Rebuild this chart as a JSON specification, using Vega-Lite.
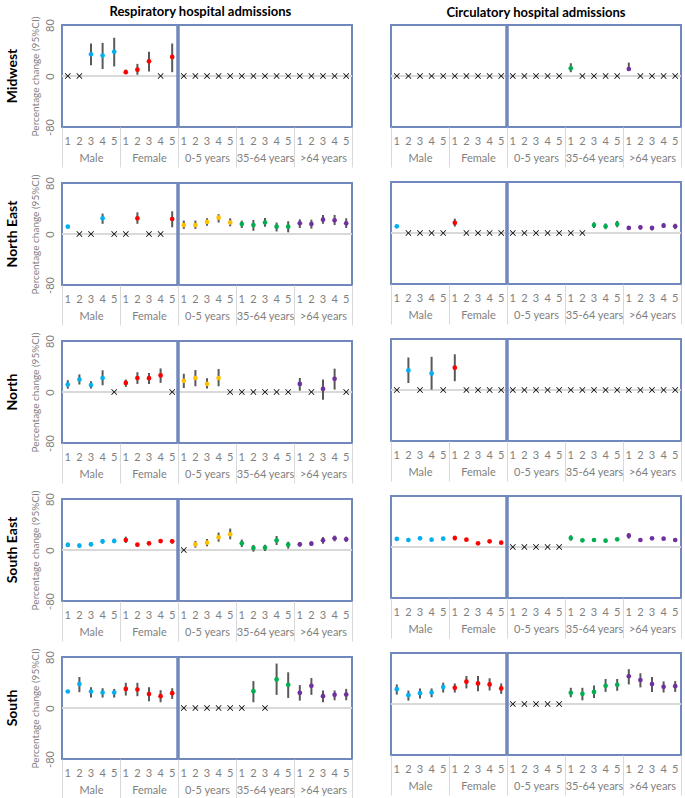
{
"$schema":"https://vega.github.io/schema/vega-lite/v6.json",
"padding":{"left":4,"top":6,"right":0,"bottom":0},
"config":{"font":"Lato","view":{"stroke":"#7088bb","strokeWidth":2},"axis":{"labelColor":"#7f7f7f","labelFontSize":11,"labelFont":"Lato"},"axisY":{"labelAngle":-90,"ticks":false,"domain":false,"grid":false,"labelPadding":7,"titlePadding":4,"titleFontSize":10,"titleFontWeight":"normal","titleColor":"#7f7f7f","titleFont":"Lato","labelColor":"#7f7f7f"},"title":{"font":"Lato","color":"#000"}},
"datasets":{"d":[
{"r":"Midwest","o":"R","g":"Male","l":1,"e":0},{"r":"Midwest","o":"R","g":"Male","l":2,"e":0},{"r":"Midwest","o":"R","g":"Male","l":3,"e":34,"lo":17,"hi":51},{"r":"Midwest","o":"R","g":"Male","l":4,"e":32,"lo":11,"hi":52},{"r":"Midwest","o":"R","g":"Male","l":5,"e":38,"lo":15,"hi":60},
{"r":"Midwest","o":"R","g":"Female","l":1,"e":6,"lo":3,"hi":10},{"r":"Midwest","o":"R","g":"Female","l":2,"e":10,"lo":2,"hi":19},{"r":"Midwest","o":"R","g":"Female","l":3,"e":23,"lo":7,"hi":38},{"r":"Midwest","o":"R","g":"Female","l":4,"e":0},{"r":"Midwest","o":"R","g":"Female","l":5,"e":30,"lo":6,"hi":51},
{"r":"Midwest","o":"R","g":"0-5 years","l":1,"e":0},{"r":"Midwest","o":"R","g":"0-5 years","l":2,"e":0},{"r":"Midwest","o":"R","g":"0-5 years","l":3,"e":0},{"r":"Midwest","o":"R","g":"0-5 years","l":4,"e":0},{"r":"Midwest","o":"R","g":"0-5 years","l":5,"e":0},
{"r":"Midwest","o":"R","g":"35-64 years","l":1,"e":0},{"r":"Midwest","o":"R","g":"35-64 years","l":2,"e":0},{"r":"Midwest","o":"R","g":"35-64 years","l":3,"e":0},{"r":"Midwest","o":"R","g":"35-64 years","l":4,"e":0},{"r":"Midwest","o":"R","g":"35-64 years","l":5,"e":0},
{"r":"Midwest","o":"R","g":">64 years","l":1,"e":0},{"r":"Midwest","o":"R","g":">64 years","l":2,"e":0},{"r":"Midwest","o":"R","g":">64 years","l":3,"e":0},{"r":"Midwest","o":"R","g":">64 years","l":4,"e":0},{"r":"Midwest","o":"R","g":">64 years","l":5,"e":0},
{"r":"Midwest","o":"C","g":"Male","l":1,"e":0},{"r":"Midwest","o":"C","g":"Male","l":2,"e":0},{"r":"Midwest","o":"C","g":"Male","l":3,"e":0},{"r":"Midwest","o":"C","g":"Male","l":4,"e":0},{"r":"Midwest","o":"C","g":"Male","l":5,"e":0},
{"r":"Midwest","o":"C","g":"Female","l":1,"e":0},{"r":"Midwest","o":"C","g":"Female","l":2,"e":0},{"r":"Midwest","o":"C","g":"Female","l":3,"e":0},{"r":"Midwest","o":"C","g":"Female","l":4,"e":0},{"r":"Midwest","o":"C","g":"Female","l":5,"e":0},
{"r":"Midwest","o":"C","g":"0-5 years","l":1,"e":0},{"r":"Midwest","o":"C","g":"0-5 years","l":2,"e":0},{"r":"Midwest","o":"C","g":"0-5 years","l":3,"e":0},{"r":"Midwest","o":"C","g":"0-5 years","l":4,"e":0},{"r":"Midwest","o":"C","g":"0-5 years","l":5,"e":0},
{"r":"Midwest","o":"C","g":"35-64 years","l":1,"e":12,"lo":6,"hi":20},{"r":"Midwest","o":"C","g":"35-64 years","l":2,"e":0},{"r":"Midwest","o":"C","g":"35-64 years","l":3,"e":0},{"r":"Midwest","o":"C","g":"35-64 years","l":4,"e":0},{"r":"Midwest","o":"C","g":"35-64 years","l":5,"e":0},
{"r":"Midwest","o":"C","g":">64 years","l":1,"e":11,"lo":8,"hi":21},{"r":"Midwest","o":"C","g":">64 years","l":2,"e":0},{"r":"Midwest","o":"C","g":">64 years","l":3,"e":0},{"r":"Midwest","o":"C","g":">64 years","l":4,"e":0},{"r":"Midwest","o":"C","g":">64 years","l":5,"e":0},
{"r":"North East","o":"R","g":"Male","l":1,"e":11.5,"lo":10,"hi":13},{"r":"North East","o":"R","g":"Male","l":2,"e":0},{"r":"North East","o":"R","g":"Male","l":3,"e":0},{"r":"North East","o":"R","g":"Male","l":4,"e":24.6,"lo":16,"hi":32},{"r":"North East","o":"R","g":"Male","l":5,"e":0},
{"r":"North East","o":"R","g":"Female","l":1,"e":0},{"r":"North East","o":"R","g":"Female","l":2,"e":24.6,"lo":16,"hi":34},{"r":"North East","o":"R","g":"Female","l":3,"e":0},{"r":"North East","o":"R","g":"Female","l":4,"e":0},{"r":"North East","o":"R","g":"Female","l":5,"e":23.5,"lo":10.5,"hi":35.6},
{"r":"North East","o":"R","g":"0-5 years","l":1,"e":14,"lo":8,"hi":21},{"r":"North East","o":"R","g":"0-5 years","l":2,"e":14,"lo":8,"hi":21},{"r":"North East","o":"R","g":"0-5 years","l":3,"e":19,"lo":13,"hi":24.6},{"r":"North East","o":"R","g":"0-5 years","l":4,"e":25.6,"lo":18,"hi":31},{"r":"North East","o":"R","g":"0-5 years","l":5,"e":18,"lo":12,"hi":24.6},
{"r":"North East","o":"R","g":"35-64 years","l":1,"e":15.7,"lo":9.4,"hi":21},{"r":"North East","o":"R","g":"35-64 years","l":2,"e":14,"lo":5,"hi":22},{"r":"North East","o":"R","g":"35-64 years","l":3,"e":18,"lo":11.5,"hi":25},{"r":"North East","o":"R","g":"35-64 years","l":4,"e":11.5,"lo":4,"hi":18},{"r":"North East","o":"R","g":"35-64 years","l":5,"e":11.5,"lo":2.6,"hi":20},
{"r":"North East","o":"R","g":">64 years","l":1,"e":16.7,"lo":9.4,"hi":23},{"r":"North East","o":"R","g":">64 years","l":2,"e":15.7,"lo":8.4,"hi":22.5},{"r":"North East","o":"R","g":">64 years","l":3,"e":22.5,"lo":16,"hi":30},{"r":"North East","o":"R","g":">64 years","l":4,"e":21.5,"lo":14,"hi":30},{"r":"North East","o":"R","g":">64 years","l":5,"e":16.7,"lo":9.4,"hi":24.6},
{"r":"North East","o":"C","g":"Male","l":1,"e":10.5,"lo":8.5,"hi":12.5},{"r":"North East","o":"C","g":"Male","l":2,"e":0},{"r":"North East","o":"C","g":"Male","l":3,"e":0},{"r":"North East","o":"C","g":"Male","l":4,"e":0},{"r":"North East","o":"C","g":"Male","l":5,"e":0},
{"r":"North East","o":"C","g":"Female","l":1,"e":16,"lo":10,"hi":22.5},{"r":"North East","o":"C","g":"Female","l":2,"e":0},{"r":"North East","o":"C","g":"Female","l":3,"e":0},{"r":"North East","o":"C","g":"Female","l":4,"e":0},{"r":"North East","o":"C","g":"Female","l":5,"e":0},
{"r":"North East","o":"C","g":"0-5 years","l":1,"e":0},{"r":"North East","o":"C","g":"0-5 years","l":2,"e":0},{"r":"North East","o":"C","g":"0-5 years","l":3,"e":0},{"r":"North East","o":"C","g":"0-5 years","l":4,"e":0},{"r":"North East","o":"C","g":"0-5 years","l":5,"e":0},
{"r":"North East","o":"C","g":"35-64 years","l":1,"e":0},{"r":"North East","o":"C","g":"35-64 years","l":2,"e":0},{"r":"North East","o":"C","g":"35-64 years","l":3,"e":12.5,"lo":8,"hi":17},{"r":"North East","o":"C","g":"35-64 years","l":4,"e":10.5,"lo":6,"hi":15},{"r":"North East","o":"C","g":"35-64 years","l":5,"e":14,"lo":9,"hi":19},
{"r":"North East","o":"C","g":">64 years","l":1,"e":8,"lo":5,"hi":10.5},{"r":"North East","o":"C","g":">64 years","l":2,"e":9,"lo":5,"hi":12},{"r":"North East","o":"C","g":">64 years","l":3,"e":8,"lo":4,"hi":10.5},{"r":"North East","o":"C","g":">64 years","l":4,"e":11.5,"lo":8,"hi":15.7},{"r":"North East","o":"C","g":">64 years","l":5,"e":10.5,"lo":6,"hi":14.6},
{"r":"North","o":"R","g":"Male","l":1,"e":11.7,"lo":5.3,"hi":18.5},{"r":"North","o":"R","g":"Male","l":2,"e":19.6,"lo":11.7,"hi":27.6},{"r":"North","o":"R","g":"Male","l":3,"e":11,"lo":5.3,"hi":17},{"r":"North","o":"R","g":"Male","l":4,"e":22,"lo":10.6,"hi":34},{"r":"North","o":"R","g":"Male","l":5,"e":0},
{"r":"North","o":"R","g":"Female","l":1,"e":14.3,"lo":8,"hi":19.6},{"r":"North","o":"R","g":"Female","l":2,"e":22,"lo":12.7,"hi":31},{"r":"North","o":"R","g":"Female","l":3,"e":21.7,"lo":12.7,"hi":30},{"r":"North","o":"R","g":"Female","l":4,"e":26,"lo":14.3,"hi":37},{"r":"North","o":"R","g":"Female","l":5,"e":0},
{"r":"North","o":"R","g":"0-5 years","l":1,"e":17.5,"lo":6.4,"hi":28.6},{"r":"North","o":"R","g":"0-5 years","l":2,"e":22,"lo":9,"hi":34.5},{"r":"North","o":"R","g":"0-5 years","l":3,"e":12.7,"lo":5.3,"hi":21.7},{"r":"North","o":"R","g":"0-5 years","l":4,"e":22,"lo":9,"hi":36},{"r":"North","o":"R","g":"0-5 years","l":5,"e":0},
{"r":"North","o":"R","g":"35-64 years","l":1,"e":0},{"r":"North","o":"R","g":"35-64 years","l":2,"e":0},{"r":"North","o":"R","g":"35-64 years","l":3,"e":0},{"r":"North","o":"R","g":"35-64 years","l":4,"e":0},{"r":"North","o":"R","g":"35-64 years","l":5,"e":0},
{"r":"North","o":"R","g":">64 years","l":1,"e":12.7,"lo":2,"hi":22},{"r":"North","o":"R","g":">64 years","l":2,"e":0},{"r":"North","o":"R","g":">64 years","l":3,"e":4.8,"lo":-12,"hi":19.6},{"r":"North","o":"R","g":">64 years","l":4,"e":20.7,"lo":3.7,"hi":36.6},{"r":"North","o":"R","g":">64 years","l":5,"e":0},
{"r":"North","o":"C","g":"Male","l":1,"e":0},{"r":"North","o":"C","g":"Male","l":2,"e":30.7,"lo":11,"hi":51},{"r":"North","o":"C","g":"Male","l":3,"e":0},{"r":"North","o":"C","g":"Male","l":4,"e":26,"lo":0.5,"hi":52},{"r":"North","o":"C","g":"Male","l":5,"e":0},
{"r":"North","o":"C","g":"Female","l":1,"e":35,"lo":13.8,"hi":56},{"r":"North","o":"C","g":"Female","l":2,"e":0},{"r":"North","o":"C","g":"Female","l":3,"e":0},{"r":"North","o":"C","g":"Female","l":4,"e":0},{"r":"North","o":"C","g":"Female","l":5,"e":0},
{"r":"North","o":"C","g":"0-5 years","l":1,"e":0},{"r":"North","o":"C","g":"0-5 years","l":2,"e":0},{"r":"North","o":"C","g":"0-5 years","l":3,"e":0},{"r":"North","o":"C","g":"0-5 years","l":4,"e":0},{"r":"North","o":"C","g":"0-5 years","l":5,"e":0},
{"r":"North","o":"C","g":"35-64 years","l":1,"e":0},{"r":"North","o":"C","g":"35-64 years","l":2,"e":0},{"r":"North","o":"C","g":"35-64 years","l":3,"e":0},{"r":"North","o":"C","g":"35-64 years","l":4,"e":0},{"r":"North","o":"C","g":"35-64 years","l":5,"e":0},
{"r":"North","o":"C","g":">64 years","l":1,"e":0},{"r":"North","o":"C","g":">64 years","l":2,"e":0},{"r":"North","o":"C","g":">64 years","l":3,"e":0},{"r":"North","o":"C","g":">64 years","l":4,"e":0},{"r":"North","o":"C","g":">64 years","l":5,"e":0},
{"r":"South East","o":"R","g":"Male","l":1,"e":7.9,"lo":4.7,"hi":11.5},{"r":"South East","o":"R","g":"Male","l":2,"e":6.8,"lo":4.2,"hi":10},{"r":"South East","o":"R","g":"Male","l":3,"e":8.9,"lo":5.8,"hi":12},{"r":"South East","o":"R","g":"Male","l":4,"e":13.6,"lo":10,"hi":17.3},{"r":"South East","o":"R","g":"Male","l":5,"e":14,"lo":11,"hi":17.8},
{"r":"South East","o":"R","g":"Female","l":1,"e":15.7,"lo":11,"hi":21},{"r":"South East","o":"R","g":"Female","l":2,"e":8.4,"lo":5.8,"hi":11},{"r":"South East","o":"R","g":"Female","l":3,"e":10.5,"lo":7.3,"hi":13.6},{"r":"South East","o":"R","g":"Female","l":4,"e":14,"lo":11,"hi":17.3},{"r":"South East","o":"R","g":"Female","l":5,"e":13.6,"lo":10,"hi":17.3},
{"r":"South East","o":"R","g":"0-5 years","l":1,"e":0},{"r":"South East","o":"R","g":"0-5 years","l":2,"e":8.9,"lo":3.7,"hi":14},{"r":"South East","o":"R","g":"0-5 years","l":3,"e":11.5,"lo":5.8,"hi":17.3},{"r":"South East","o":"R","g":"0-5 years","l":4,"e":20,"lo":13,"hi":27.3},{"r":"South East","o":"R","g":"0-5 years","l":5,"e":24.7,"lo":16.8,"hi":33.6},
{"r":"South East","o":"R","g":"35-64 years","l":1,"e":10.5,"lo":4.7,"hi":16.3},{"r":"South East","o":"R","g":"35-64 years","l":2,"e":3.2,"lo":-2.6,"hi":7.9},{"r":"South East","o":"R","g":"35-64 years","l":3,"e":3.7,"lo":-1.6,"hi":8.4},{"r":"South East","o":"R","g":"35-64 years","l":4,"e":15.2,"lo":7.9,"hi":22},{"r":"South East","o":"R","g":"35-64 years","l":5,"e":8.4,"lo":2.1,"hi":13},
{"r":"South East","o":"R","g":">64 years","l":1,"e":8.9,"lo":5.2,"hi":12.6},{"r":"South East","o":"R","g":">64 years","l":2,"e":10,"lo":6.3,"hi":13.6},{"r":"South East","o":"R","g":">64 years","l":3,"e":15.2,"lo":10,"hi":20.5},{"r":"South East","o":"R","g":">64 years","l":4,"e":18.4,"lo":13.6,"hi":22.6},{"r":"South East","o":"R","g":">64 years","l":5,"e":16.8,"lo":12.6,"hi":21},
{"r":"South East","o":"C","g":"Male","l":1,"e":12.6,"lo":10.5,"hi":15},{"r":"South East","o":"C","g":"Male","l":2,"e":11,"lo":9,"hi":13},{"r":"South East","o":"C","g":"Male","l":3,"e":13.6,"lo":11.5,"hi":16},{"r":"South East","o":"C","g":"Male","l":4,"e":11.5,"lo":9.5,"hi":13.5},{"r":"South East","o":"C","g":"Male","l":5,"e":13,"lo":11,"hi":15},
{"r":"South East","o":"C","g":"Female","l":1,"e":14,"lo":10.5,"hi":17.8},{"r":"South East","o":"C","g":"Female","l":2,"e":11.5,"lo":9.5,"hi":13.5},{"r":"South East","o":"C","g":"Female","l":3,"e":5.8,"lo":4,"hi":7.8},{"r":"South East","o":"C","g":"Female","l":4,"e":8.9,"lo":6.8,"hi":11},{"r":"South East","o":"C","g":"Female","l":5,"e":6.8,"lo":4.8,"hi":8.8},
{"r":"South East","o":"C","g":"0-5 years","l":1,"e":0},{"r":"South East","o":"C","g":"0-5 years","l":2,"e":0},{"r":"South East","o":"C","g":"0-5 years","l":3,"e":0},{"r":"South East","o":"C","g":"0-5 years","l":4,"e":0},{"r":"South East","o":"C","g":"0-5 years","l":5,"e":0},
{"r":"South East","o":"C","g":"35-64 years","l":1,"e":14,"lo":10,"hi":18.4},{"r":"South East","o":"C","g":"35-64 years","l":2,"e":10.5,"lo":8.5,"hi":12.5},{"r":"South East","o":"C","g":"35-64 years","l":3,"e":11,"lo":8.5,"hi":13.5},{"r":"South East","o":"C","g":"35-64 years","l":4,"e":10,"lo":8.5,"hi":11.5},{"r":"South East","o":"C","g":"35-64 years","l":5,"e":12,"lo":10,"hi":14},
{"r":"South East","o":"C","g":">64 years","l":1,"e":17.8,"lo":13,"hi":22},{"r":"South East","o":"C","g":">64 years","l":2,"e":11,"lo":9,"hi":13},{"r":"South East","o":"C","g":">64 years","l":3,"e":13.6,"lo":11.5,"hi":15.7},{"r":"South East","o":"C","g":">64 years","l":4,"e":13,"lo":11,"hi":15},{"r":"South East","o":"C","g":">64 years","l":5,"e":11,"lo":9,"hi":13},
{"r":"South","o":"R","g":"Male","l":1,"e":25.9,"lo":24,"hi":28},{"r":"South","o":"R","g":"Male","l":2,"e":37.5,"lo":24.8,"hi":48.6},{"r":"South","o":"R","g":"Male","l":3,"e":25.9,"lo":16.4,"hi":32.7},{"r":"South","o":"R","g":"Male","l":4,"e":24.3,"lo":16.4,"hi":31},{"r":"South","o":"R","g":"Male","l":5,"e":24.3,"lo":16.4,"hi":30},
{"r":"South","o":"R","g":"Female","l":1,"e":30,"lo":19.5,"hi":39.6},{"r":"South","o":"R","g":"Female","l":2,"e":29,"lo":18.5,"hi":39.6},{"r":"South","o":"R","g":"Female","l":3,"e":22,"lo":10.6,"hi":32.7},{"r":"South","o":"R","g":"Female","l":4,"e":18.5,"lo":9,"hi":28},{"r":"South","o":"R","g":"Female","l":5,"e":23.2,"lo":14.3,"hi":31},
{"r":"South","o":"R","g":"0-5 years","l":1,"e":0},{"r":"South","o":"R","g":"0-5 years","l":2,"e":0},{"r":"South","o":"R","g":"0-5 years","l":3,"e":0},{"r":"South","o":"R","g":"0-5 years","l":4,"e":0},{"r":"South","o":"R","g":"0-5 years","l":5,"e":0},
{"r":"South","o":"R","g":"35-64 years","l":1,"e":0},{"r":"South","o":"R","g":"35-64 years","l":2,"e":26.4,"lo":9,"hi":42.2},{"r":"South","o":"R","g":"35-64 years","l":3,"e":0},{"r":"South","o":"R","g":"35-64 years","l":4,"e":44.9,"lo":20.6,"hi":69.7},{"r":"South","o":"R","g":"35-64 years","l":5,"e":36.4,"lo":15.8,"hi":56},
{"r":"South","o":"R","g":">64 years","l":1,"e":23.8,"lo":11.6,"hi":35.9},{"r":"South","o":"R","g":">64 years","l":2,"e":34.8,"lo":20.6,"hi":47},{"r":"South","o":"R","g":">64 years","l":3,"e":18.5,"lo":9,"hi":27.5},{"r":"South","o":"R","g":">64 years","l":4,"e":20.6,"lo":12.1,"hi":27.5},{"r":"South","o":"R","g":">64 years","l":5,"e":21,"lo":12.1,"hi":30},
{"r":"South","o":"C","g":"Male","l":1,"e":23.2,"lo":14.8,"hi":30.7},{"r":"South","o":"C","g":"Male","l":2,"e":13.8,"lo":5.3,"hi":21},{"r":"South","o":"C","g":"Male","l":3,"e":17,"lo":8.5,"hi":24.4},{"r":"South","o":"C","g":"Male","l":4,"e":18,"lo":10.6,"hi":24.4},{"r":"South","o":"C","g":"Male","l":5,"e":26.5,"lo":18,"hi":33.4},
{"r":"South","o":"C","g":"Female","l":1,"e":25.4,"lo":18,"hi":32.3},{"r":"South","o":"C","g":"Female","l":2,"e":35,"lo":24.4,"hi":44},{"r":"South","o":"C","g":"Female","l":3,"e":32.3,"lo":20,"hi":44},{"r":"South","o":"C","g":"Female","l":4,"e":30.7,"lo":21.2,"hi":40.3},{"r":"South","o":"C","g":"Female","l":5,"e":24.4,"lo":15.9,"hi":32.3},
{"r":"South","o":"C","g":"0-5 years","l":1,"e":0},{"r":"South","o":"C","g":"0-5 years","l":2,"e":0},{"r":"South","o":"C","g":"0-5 years","l":3,"e":0},{"r":"South","o":"C","g":"0-5 years","l":4,"e":0},{"r":"South","o":"C","g":"0-5 years","l":5,"e":0},
{"r":"South","o":"C","g":"35-64 years","l":1,"e":17.5,"lo":10.6,"hi":25.4},{"r":"South","o":"C","g":"35-64 years","l":2,"e":15.9,"lo":5.8,"hi":25.4},{"r":"South","o":"C","g":"35-64 years","l":3,"e":19,"lo":9.5,"hi":29},{"r":"South","o":"C","g":"35-64 years","l":4,"e":28.6,"lo":19,"hi":39.2},{"r":"South","o":"C","g":"35-64 years","l":5,"e":30.2,"lo":20.7,"hi":39.2},
{"r":"South","o":"C","g":">64 years","l":1,"e":43.5,"lo":30.7,"hi":54.6},{"r":"South","o":"C","g":">64 years","l":2,"e":37.6,"lo":26,"hi":48.2},{"r":"South","o":"C","g":">64 years","l":3,"e":31.3,"lo":19,"hi":42.4},{"r":"South","o":"C","g":">64 years","l":4,"e":27,"lo":18,"hi":35.5},{"r":"South","o":"C","g":">64 years","l":5,"e":28,"lo":19,"hi":36}
]},
"spacing":35,
"hconcat":[
{"title":{"text":"Respiratory hospital admissions","anchor":"middle","fontSize":13,"fontWeight":"bold","offset":2,"dx":21,"dy":6},"spacing":4,"vconcat":[
{"data":{"name":"d"},"transform":[{"filter":"datum.r=='Midwest'&&datum.o=='R'"},{"calculate":"indexof(['Male','Female','0-5 years','35-64 years','>64 years'],datum.g)*5+datum.l","as":"p"}],"width":290,"height":102,
"title":{"text":"Midwest","orient":"left","anchor":"middle","frame":"group","fontSize":14,"fontWeight":"bold","offset":10},
"layer":[
{"layer":[
{"mark":{"type":"rule","color":"#d9d9d9","strokeWidth":1.5},"encoding":{"y":{"datum":0,"type":"quantitative","scale":{"domain":[-80,80],"nice":false},"axis":{"values":[-80,-40,0,40,80],"labelExpr":"datum.value+''","title":"Percentage change (95%CI)"}}}},
{"transform":[{"filter":"isValid(datum.lo)"}],"mark":{"type":"rule","color":"#595959","strokeWidth":2},"encoding":{"x":{"field":"p","type":"ordinal","scale":{"type":"band","paddingInner":0,"paddingOuter":0},"axis":{"orient":"bottom","labelExpr":"(datum.value-1)%5+1","labelColor":"#7f7f7f","ticks":false,"domain":false,"labelAngle":0,"title":null,"labelPadding":8}},"y":{"field":"lo","type":"quantitative"},"y2":{"field":"hi"}}},
{"transform":[{"filter":"isValid(datum.lo)"}],"mark":{"type":"point","shape":"circle","filled":true,"size":22,"opacity":1},"encoding":{"x":{"field":"p","type":"ordinal"},"y":{"field":"e","type":"quantitative"},"color":{"field":"g","type":"nominal","scale":{"domain":["Male","Female","0-5 years","35-64 years",">64 years"],"range":["#00b0f0","#ff0000","#ffc000","#00b050","#7030a0"]},"legend":null}}},
{"transform":[{"filter":"!isValid(datum.lo)"}],"mark":{"type":"point","shape":"M-1,-0.8L-0.8,-1L0,-0.2L0.8,-1L1,-0.8L0.2,0L1,0.8L0.8,1L0,0.2L-0.8,1L-1,0.8L-0.2,0Z","filled":true,"size":36,"color":"#000","opacity":1},"encoding":{"x":{"field":"p","type":"ordinal"},"y":{"field":"e","type":"quantitative"}}}
]},
{"transform":[{"filter":"datum.g=='0-5 years'&&datum.l==1"}],"mark":{"type":"rule","color":"#7088bb","strokeWidth":3.5},"encoding":{"x":{"field":"g","type":"nominal","bandPosition":0,"scale":{"type":"band","domain":["Male","Female","0-5 years","35-64 years",">64 years"],"paddingInner":0,"paddingOuter":0},"axis":{"orient":"bottom","tickBand":"extent","tickSize":40,"tickColor":"#d9d9d9","tickWidth":1,"domain":false,"labelPadding":-15,"labelAngle":0,"title":null}}}}
],
"resolve":{"scale":{"x":"independent"}}},
{"data":{"name":"d"},"transform":[{"filter":"datum.r=='North East'&&datum.o=='R'"},{"calculate":"indexof(['Male','Female','0-5 years','35-64 years','>64 years'],datum.g)*5+datum.l","as":"p"}],"width":290,"height":102,
"title":{"text":"North East","orient":"left","anchor":"middle","frame":"group","fontSize":14,"fontWeight":"bold","offset":10},
"layer":[
{"layer":[
{"mark":{"type":"rule","color":"#d9d9d9","strokeWidth":1.5},"encoding":{"y":{"datum":0,"type":"quantitative","scale":{"domain":[-80,80],"nice":false},"axis":{"values":[-80,-40,0,40,80],"labelExpr":"datum.value+''","title":"Percentage change (95%CI)"}}}},
{"transform":[{"filter":"isValid(datum.lo)"}],"mark":{"type":"rule","color":"#595959","strokeWidth":2},"encoding":{"x":{"field":"p","type":"ordinal","scale":{"type":"band","paddingInner":0,"paddingOuter":0},"axis":{"orient":"bottom","labelExpr":"(datum.value-1)%5+1","labelColor":"#7f7f7f","ticks":false,"domain":false,"labelAngle":0,"title":null,"labelPadding":8}},"y":{"field":"lo","type":"quantitative"},"y2":{"field":"hi"}}},
{"transform":[{"filter":"isValid(datum.lo)"}],"mark":{"type":"point","shape":"circle","filled":true,"size":22,"opacity":1},"encoding":{"x":{"field":"p","type":"ordinal"},"y":{"field":"e","type":"quantitative"},"color":{"field":"g","type":"nominal","scale":{"domain":["Male","Female","0-5 years","35-64 years",">64 years"],"range":["#00b0f0","#ff0000","#ffc000","#00b050","#7030a0"]},"legend":null}}},
{"transform":[{"filter":"!isValid(datum.lo)"}],"mark":{"type":"point","shape":"M-1,-0.8L-0.8,-1L0,-0.2L0.8,-1L1,-0.8L0.2,0L1,0.8L0.8,1L0,0.2L-0.8,1L-1,0.8L-0.2,0Z","filled":true,"size":36,"color":"#000","opacity":1},"encoding":{"x":{"field":"p","type":"ordinal"},"y":{"field":"e","type":"quantitative"}}}
]},
{"transform":[{"filter":"datum.g=='0-5 years'&&datum.l==1"}],"mark":{"type":"rule","color":"#7088bb","strokeWidth":3.5},"encoding":{"x":{"field":"g","type":"nominal","bandPosition":0,"scale":{"type":"band","domain":["Male","Female","0-5 years","35-64 years",">64 years"],"paddingInner":0,"paddingOuter":0},"axis":{"orient":"bottom","tickBand":"extent","tickSize":40,"tickColor":"#d9d9d9","tickWidth":1,"domain":false,"labelPadding":-15,"labelAngle":0,"title":null}}}}
],
"resolve":{"scale":{"x":"independent"}}},
{"data":{"name":"d"},"transform":[{"filter":"datum.r=='North'&&datum.o=='R'"},{"calculate":"indexof(['Male','Female','0-5 years','35-64 years','>64 years'],datum.g)*5+datum.l","as":"p"}],"width":290,"height":102,
"title":{"text":"North","orient":"left","anchor":"middle","frame":"group","fontSize":14,"fontWeight":"bold","offset":10},
"layer":[
{"layer":[
{"mark":{"type":"rule","color":"#d9d9d9","strokeWidth":1.5},"encoding":{"y":{"datum":0,"type":"quantitative","scale":{"domain":[-80,80],"nice":false},"axis":{"values":[-80,-40,0,40,80],"labelExpr":"datum.value+''","title":"Percentage change (95%CI)"}}}},
{"transform":[{"filter":"isValid(datum.lo)"}],"mark":{"type":"rule","color":"#595959","strokeWidth":2},"encoding":{"x":{"field":"p","type":"ordinal","scale":{"type":"band","paddingInner":0,"paddingOuter":0},"axis":{"orient":"bottom","labelExpr":"(datum.value-1)%5+1","labelColor":"#7f7f7f","ticks":false,"domain":false,"labelAngle":0,"title":null,"labelPadding":8}},"y":{"field":"lo","type":"quantitative"},"y2":{"field":"hi"}}},
{"transform":[{"filter":"isValid(datum.lo)"}],"mark":{"type":"point","shape":"circle","filled":true,"size":22,"opacity":1},"encoding":{"x":{"field":"p","type":"ordinal"},"y":{"field":"e","type":"quantitative"},"color":{"field":"g","type":"nominal","scale":{"domain":["Male","Female","0-5 years","35-64 years",">64 years"],"range":["#00b0f0","#ff0000","#ffc000","#00b050","#7030a0"]},"legend":null}}},
{"transform":[{"filter":"!isValid(datum.lo)"}],"mark":{"type":"point","shape":"M-1,-0.8L-0.8,-1L0,-0.2L0.8,-1L1,-0.8L0.2,0L1,0.8L0.8,1L0,0.2L-0.8,1L-1,0.8L-0.2,0Z","filled":true,"size":36,"color":"#000","opacity":1},"encoding":{"x":{"field":"p","type":"ordinal"},"y":{"field":"e","type":"quantitative"}}}
]},
{"transform":[{"filter":"datum.g=='0-5 years'&&datum.l==1"}],"mark":{"type":"rule","color":"#7088bb","strokeWidth":3.5},"encoding":{"x":{"field":"g","type":"nominal","bandPosition":0,"scale":{"type":"band","domain":["Male","Female","0-5 years","35-64 years",">64 years"],"paddingInner":0,"paddingOuter":0},"axis":{"orient":"bottom","tickBand":"extent","tickSize":40,"tickColor":"#d9d9d9","tickWidth":1,"domain":false,"labelPadding":-15,"labelAngle":0,"title":null}}}}
],
"resolve":{"scale":{"x":"independent"}}},
{"data":{"name":"d"},"transform":[{"filter":"datum.r=='South East'&&datum.o=='R'"},{"calculate":"indexof(['Male','Female','0-5 years','35-64 years','>64 years'],datum.g)*5+datum.l","as":"p"}],"width":290,"height":102,
"title":{"text":"South East","orient":"left","anchor":"middle","frame":"group","fontSize":14,"fontWeight":"bold","offset":10},
"layer":[
{"layer":[
{"mark":{"type":"rule","color":"#d9d9d9","strokeWidth":1.5},"encoding":{"y":{"datum":0,"type":"quantitative","scale":{"domain":[-80,80],"nice":false},"axis":{"values":[-80,-40,0,40,80],"labelExpr":"datum.value+''","title":"Percentage change (95%CI)"}}}},
{"transform":[{"filter":"isValid(datum.lo)"}],"mark":{"type":"rule","color":"#595959","strokeWidth":2},"encoding":{"x":{"field":"p","type":"ordinal","scale":{"type":"band","paddingInner":0,"paddingOuter":0},"axis":{"orient":"bottom","labelExpr":"(datum.value-1)%5+1","labelColor":"#7f7f7f","ticks":false,"domain":false,"labelAngle":0,"title":null,"labelPadding":8}},"y":{"field":"lo","type":"quantitative"},"y2":{"field":"hi"}}},
{"transform":[{"filter":"isValid(datum.lo)"}],"mark":{"type":"point","shape":"circle","filled":true,"size":22,"opacity":1},"encoding":{"x":{"field":"p","type":"ordinal"},"y":{"field":"e","type":"quantitative"},"color":{"field":"g","type":"nominal","scale":{"domain":["Male","Female","0-5 years","35-64 years",">64 years"],"range":["#00b0f0","#ff0000","#ffc000","#00b050","#7030a0"]},"legend":null}}},
{"transform":[{"filter":"!isValid(datum.lo)"}],"mark":{"type":"point","shape":"M-1,-0.8L-0.8,-1L0,-0.2L0.8,-1L1,-0.8L0.2,0L1,0.8L0.8,1L0,0.2L-0.8,1L-1,0.8L-0.2,0Z","filled":true,"size":36,"color":"#000","opacity":1},"encoding":{"x":{"field":"p","type":"ordinal"},"y":{"field":"e","type":"quantitative"}}}
]},
{"transform":[{"filter":"datum.g=='0-5 years'&&datum.l==1"}],"mark":{"type":"rule","color":"#7088bb","strokeWidth":3.5},"encoding":{"x":{"field":"g","type":"nominal","bandPosition":0,"scale":{"type":"band","domain":["Male","Female","0-5 years","35-64 years",">64 years"],"paddingInner":0,"paddingOuter":0},"axis":{"orient":"bottom","tickBand":"extent","tickSize":40,"tickColor":"#d9d9d9","tickWidth":1,"domain":false,"labelPadding":-15,"labelAngle":0,"title":null}}}}
],
"resolve":{"scale":{"x":"independent"}}},
{"data":{"name":"d"},"transform":[{"filter":"datum.r=='South'&&datum.o=='R'"},{"calculate":"indexof(['Male','Female','0-5 years','35-64 years','>64 years'],datum.g)*5+datum.l","as":"p"}],"width":290,"height":102,
"title":{"text":"South","orient":"left","anchor":"middle","frame":"group","fontSize":14,"fontWeight":"bold","offset":10},
"layer":[
{"layer":[
{"mark":{"type":"rule","color":"#d9d9d9","strokeWidth":1.5},"encoding":{"y":{"datum":0,"type":"quantitative","scale":{"domain":[-80,80],"nice":false},"axis":{"values":[-80,-40,0,40,80],"labelExpr":"datum.value+''","title":"Percentage change (95%CI)"}}}},
{"transform":[{"filter":"isValid(datum.lo)"}],"mark":{"type":"rule","color":"#595959","strokeWidth":2},"encoding":{"x":{"field":"p","type":"ordinal","scale":{"type":"band","paddingInner":0,"paddingOuter":0},"axis":{"orient":"bottom","labelExpr":"(datum.value-1)%5+1","labelColor":"#7f7f7f","ticks":false,"domain":false,"labelAngle":0,"title":null,"labelPadding":8}},"y":{"field":"lo","type":"quantitative"},"y2":{"field":"hi"}}},
{"transform":[{"filter":"isValid(datum.lo)"}],"mark":{"type":"point","shape":"circle","filled":true,"size":22,"opacity":1},"encoding":{"x":{"field":"p","type":"ordinal"},"y":{"field":"e","type":"quantitative"},"color":{"field":"g","type":"nominal","scale":{"domain":["Male","Female","0-5 years","35-64 years",">64 years"],"range":["#00b0f0","#ff0000","#ffc000","#00b050","#7030a0"]},"legend":null}}},
{"transform":[{"filter":"!isValid(datum.lo)"}],"mark":{"type":"point","shape":"M-1,-0.8L-0.8,-1L0,-0.2L0.8,-1L1,-0.8L0.2,0L1,0.8L0.8,1L0,0.2L-0.8,1L-1,0.8L-0.2,0Z","filled":true,"size":36,"color":"#000","opacity":1},"encoding":{"x":{"field":"p","type":"ordinal"},"y":{"field":"e","type":"quantitative"}}}
]},
{"transform":[{"filter":"datum.g=='0-5 years'&&datum.l==1"}],"mark":{"type":"rule","color":"#7088bb","strokeWidth":3.5},"encoding":{"x":{"field":"g","type":"nominal","bandPosition":0,"scale":{"type":"band","domain":["Male","Female","0-5 years","35-64 years",">64 years"],"paddingInner":0,"paddingOuter":0},"axis":{"orient":"bottom","tickBand":"extent","tickSize":40,"tickColor":"#d9d9d9","tickWidth":1,"domain":false,"labelPadding":-15,"labelAngle":0,"title":null}}}}
],
"resolve":{"scale":{"x":"independent"}}}
]},
{"title":{"text":"Circulatory hospital admissions","anchor":"middle","fontSize":13,"fontWeight":"bold","offset":2},"spacing":10,"vconcat":[
{"data":{"name":"d"},"transform":[{"filter":"datum.r=='Midwest'&&datum.o=='C'"},{"calculate":"indexof(['Male','Female','0-5 years','35-64 years','>64 years'],datum.g)*5+datum.l","as":"p"}],"width":290,"height":102,
"layer":[
{"layer":[
{"mark":{"type":"rule","color":"#d9d9d9","strokeWidth":1.5},"encoding":{"y":{"datum":0,"type":"quantitative","scale":{"domain":[-80,80],"nice":false},"axis":null}}},
{"transform":[{"filter":"isValid(datum.lo)"}],"mark":{"type":"rule","color":"#595959","strokeWidth":2},"encoding":{"x":{"field":"p","type":"ordinal","scale":{"type":"band","paddingInner":0,"paddingOuter":0},"axis":{"orient":"bottom","labelExpr":"(datum.value-1)%5+1","labelColor":"#7f7f7f","ticks":false,"domain":false,"labelAngle":0,"title":null,"labelPadding":8}},"y":{"field":"lo","type":"quantitative"},"y2":{"field":"hi"}}},
{"transform":[{"filter":"isValid(datum.lo)"}],"mark":{"type":"point","shape":"circle","filled":true,"size":22,"opacity":1},"encoding":{"x":{"field":"p","type":"ordinal"},"y":{"field":"e","type":"quantitative"},"color":{"field":"g","type":"nominal","scale":{"domain":["Male","Female","0-5 years","35-64 years",">64 years"],"range":["#00b0f0","#ff0000","#ffc000","#00b050","#7030a0"]},"legend":null}}},
{"transform":[{"filter":"!isValid(datum.lo)"}],"mark":{"type":"point","shape":"M-1,-0.8L-0.8,-1L0,-0.2L0.8,-1L1,-0.8L0.2,0L1,0.8L0.8,1L0,0.2L-0.8,1L-1,0.8L-0.2,0Z","filled":true,"size":36,"color":"#000","opacity":1},"encoding":{"x":{"field":"p","type":"ordinal"},"y":{"field":"e","type":"quantitative"}}}
]},
{"transform":[{"filter":"datum.g=='0-5 years'&&datum.l==1"}],"mark":{"type":"rule","color":"#7088bb","strokeWidth":3.5},"encoding":{"x":{"field":"g","type":"nominal","bandPosition":0,"scale":{"type":"band","domain":["Male","Female","0-5 years","35-64 years",">64 years"],"paddingInner":0,"paddingOuter":0},"axis":{"orient":"bottom","tickBand":"extent","tickSize":40,"tickColor":"#d9d9d9","tickWidth":1,"domain":false,"labelPadding":-15,"labelAngle":0,"title":null}}}}
],
"resolve":{"scale":{"x":"independent"}}},
{"data":{"name":"d"},"transform":[{"filter":"datum.r=='North East'&&datum.o=='C'"},{"calculate":"indexof(['Male','Female','0-5 years','35-64 years','>64 years'],datum.g)*5+datum.l","as":"p"}],"width":290,"height":102,
"layer":[
{"layer":[
{"mark":{"type":"rule","color":"#d9d9d9","strokeWidth":1.5},"encoding":{"y":{"datum":0,"type":"quantitative","scale":{"domain":[-80,80],"nice":false},"axis":null}}},
{"transform":[{"filter":"isValid(datum.lo)"}],"mark":{"type":"rule","color":"#595959","strokeWidth":2},"encoding":{"x":{"field":"p","type":"ordinal","scale":{"type":"band","paddingInner":0,"paddingOuter":0},"axis":{"orient":"bottom","labelExpr":"(datum.value-1)%5+1","labelColor":"#7f7f7f","ticks":false,"domain":false,"labelAngle":0,"title":null,"labelPadding":8}},"y":{"field":"lo","type":"quantitative"},"y2":{"field":"hi"}}},
{"transform":[{"filter":"isValid(datum.lo)"}],"mark":{"type":"point","shape":"circle","filled":true,"size":22,"opacity":1},"encoding":{"x":{"field":"p","type":"ordinal"},"y":{"field":"e","type":"quantitative"},"color":{"field":"g","type":"nominal","scale":{"domain":["Male","Female","0-5 years","35-64 years",">64 years"],"range":["#00b0f0","#ff0000","#ffc000","#00b050","#7030a0"]},"legend":null}}},
{"transform":[{"filter":"!isValid(datum.lo)"}],"mark":{"type":"point","shape":"M-1,-0.8L-0.8,-1L0,-0.2L0.8,-1L1,-0.8L0.2,0L1,0.8L0.8,1L0,0.2L-0.8,1L-1,0.8L-0.2,0Z","filled":true,"size":36,"color":"#000","opacity":1},"encoding":{"x":{"field":"p","type":"ordinal"},"y":{"field":"e","type":"quantitative"}}}
]},
{"transform":[{"filter":"datum.g=='0-5 years'&&datum.l==1"}],"mark":{"type":"rule","color":"#7088bb","strokeWidth":3.5},"encoding":{"x":{"field":"g","type":"nominal","bandPosition":0,"scale":{"type":"band","domain":["Male","Female","0-5 years","35-64 years",">64 years"],"paddingInner":0,"paddingOuter":0},"axis":{"orient":"bottom","tickBand":"extent","tickSize":40,"tickColor":"#d9d9d9","tickWidth":1,"domain":false,"labelPadding":-15,"labelAngle":0,"title":null}}}}
],
"resolve":{"scale":{"x":"independent"}}},
{"data":{"name":"d"},"transform":[{"filter":"datum.r=='North'&&datum.o=='C'"},{"calculate":"indexof(['Male','Female','0-5 years','35-64 years','>64 years'],datum.g)*5+datum.l","as":"p"}],"width":290,"height":102,
"layer":[
{"layer":[
{"mark":{"type":"rule","color":"#d9d9d9","strokeWidth":1.5},"encoding":{"y":{"datum":0,"type":"quantitative","scale":{"domain":[-80,80],"nice":false},"axis":null}}},
{"transform":[{"filter":"isValid(datum.lo)"}],"mark":{"type":"rule","color":"#595959","strokeWidth":2},"encoding":{"x":{"field":"p","type":"ordinal","scale":{"type":"band","paddingInner":0,"paddingOuter":0},"axis":{"orient":"bottom","labelExpr":"(datum.value-1)%5+1","labelColor":"#7f7f7f","ticks":false,"domain":false,"labelAngle":0,"title":null,"labelPadding":8}},"y":{"field":"lo","type":"quantitative"},"y2":{"field":"hi"}}},
{"transform":[{"filter":"isValid(datum.lo)"}],"mark":{"type":"point","shape":"circle","filled":true,"size":22,"opacity":1},"encoding":{"x":{"field":"p","type":"ordinal"},"y":{"field":"e","type":"quantitative"},"color":{"field":"g","type":"nominal","scale":{"domain":["Male","Female","0-5 years","35-64 years",">64 years"],"range":["#00b0f0","#ff0000","#ffc000","#00b050","#7030a0"]},"legend":null}}},
{"transform":[{"filter":"!isValid(datum.lo)"}],"mark":{"type":"point","shape":"M-1,-0.8L-0.8,-1L0,-0.2L0.8,-1L1,-0.8L0.2,0L1,0.8L0.8,1L0,0.2L-0.8,1L-1,0.8L-0.2,0Z","filled":true,"size":36,"color":"#000","opacity":1},"encoding":{"x":{"field":"p","type":"ordinal"},"y":{"field":"e","type":"quantitative"}}}
]},
{"transform":[{"filter":"datum.g=='0-5 years'&&datum.l==1"}],"mark":{"type":"rule","color":"#7088bb","strokeWidth":3.5},"encoding":{"x":{"field":"g","type":"nominal","bandPosition":0,"scale":{"type":"band","domain":["Male","Female","0-5 years","35-64 years",">64 years"],"paddingInner":0,"paddingOuter":0},"axis":{"orient":"bottom","tickBand":"extent","tickSize":40,"tickColor":"#d9d9d9","tickWidth":1,"domain":false,"labelPadding":-15,"labelAngle":0,"title":null}}}}
],
"resolve":{"scale":{"x":"independent"}}},
{"data":{"name":"d"},"transform":[{"filter":"datum.r=='South East'&&datum.o=='C'"},{"calculate":"indexof(['Male','Female','0-5 years','35-64 years','>64 years'],datum.g)*5+datum.l","as":"p"}],"width":290,"height":102,
"layer":[
{"layer":[
{"mark":{"type":"rule","color":"#d9d9d9","strokeWidth":1.5},"encoding":{"y":{"datum":0,"type":"quantitative","scale":{"domain":[-80,80],"nice":false},"axis":null}}},
{"transform":[{"filter":"isValid(datum.lo)"}],"mark":{"type":"rule","color":"#595959","strokeWidth":2},"encoding":{"x":{"field":"p","type":"ordinal","scale":{"type":"band","paddingInner":0,"paddingOuter":0},"axis":{"orient":"bottom","labelExpr":"(datum.value-1)%5+1","labelColor":"#7f7f7f","ticks":false,"domain":false,"labelAngle":0,"title":null,"labelPadding":8}},"y":{"field":"lo","type":"quantitative"},"y2":{"field":"hi"}}},
{"transform":[{"filter":"isValid(datum.lo)"}],"mark":{"type":"point","shape":"circle","filled":true,"size":22,"opacity":1},"encoding":{"x":{"field":"p","type":"ordinal"},"y":{"field":"e","type":"quantitative"},"color":{"field":"g","type":"nominal","scale":{"domain":["Male","Female","0-5 years","35-64 years",">64 years"],"range":["#00b0f0","#ff0000","#ffc000","#00b050","#7030a0"]},"legend":null}}},
{"transform":[{"filter":"!isValid(datum.lo)"}],"mark":{"type":"point","shape":"M-1,-0.8L-0.8,-1L0,-0.2L0.8,-1L1,-0.8L0.2,0L1,0.8L0.8,1L0,0.2L-0.8,1L-1,0.8L-0.2,0Z","filled":true,"size":36,"color":"#000","opacity":1},"encoding":{"x":{"field":"p","type":"ordinal"},"y":{"field":"e","type":"quantitative"}}}
]},
{"transform":[{"filter":"datum.g=='0-5 years'&&datum.l==1"}],"mark":{"type":"rule","color":"#7088bb","strokeWidth":3.5},"encoding":{"x":{"field":"g","type":"nominal","bandPosition":0,"scale":{"type":"band","domain":["Male","Female","0-5 years","35-64 years",">64 years"],"paddingInner":0,"paddingOuter":0},"axis":{"orient":"bottom","tickBand":"extent","tickSize":40,"tickColor":"#d9d9d9","tickWidth":1,"domain":false,"labelPadding":-15,"labelAngle":0,"title":null}}}}
],
"resolve":{"scale":{"x":"independent"}}},
{"data":{"name":"d"},"transform":[{"filter":"datum.r=='South'&&datum.o=='C'"},{"calculate":"indexof(['Male','Female','0-5 years','35-64 years','>64 years'],datum.g)*5+datum.l","as":"p"}],"width":290,"height":102,
"layer":[
{"layer":[
{"mark":{"type":"rule","color":"#d9d9d9","strokeWidth":1.5},"encoding":{"y":{"datum":0,"type":"quantitative","scale":{"domain":[-80,80],"nice":false},"axis":null}}},
{"transform":[{"filter":"isValid(datum.lo)"}],"mark":{"type":"rule","color":"#595959","strokeWidth":2},"encoding":{"x":{"field":"p","type":"ordinal","scale":{"type":"band","paddingInner":0,"paddingOuter":0},"axis":{"orient":"bottom","labelExpr":"(datum.value-1)%5+1","labelColor":"#7f7f7f","ticks":false,"domain":false,"labelAngle":0,"title":null,"labelPadding":8}},"y":{"field":"lo","type":"quantitative"},"y2":{"field":"hi"}}},
{"transform":[{"filter":"isValid(datum.lo)"}],"mark":{"type":"point","shape":"circle","filled":true,"size":22,"opacity":1},"encoding":{"x":{"field":"p","type":"ordinal"},"y":{"field":"e","type":"quantitative"},"color":{"field":"g","type":"nominal","scale":{"domain":["Male","Female","0-5 years","35-64 years",">64 years"],"range":["#00b0f0","#ff0000","#ffc000","#00b050","#7030a0"]},"legend":null}}},
{"transform":[{"filter":"!isValid(datum.lo)"}],"mark":{"type":"point","shape":"M-1,-0.8L-0.8,-1L0,-0.2L0.8,-1L1,-0.8L0.2,0L1,0.8L0.8,1L0,0.2L-0.8,1L-1,0.8L-0.2,0Z","filled":true,"size":36,"color":"#000","opacity":1},"encoding":{"x":{"field":"p","type":"ordinal"},"y":{"field":"e","type":"quantitative"}}}
]},
{"transform":[{"filter":"datum.g=='0-5 years'&&datum.l==1"}],"mark":{"type":"rule","color":"#7088bb","strokeWidth":3.5},"encoding":{"x":{"field":"g","type":"nominal","bandPosition":0,"scale":{"type":"band","domain":["Male","Female","0-5 years","35-64 years",">64 years"],"paddingInner":0,"paddingOuter":0},"axis":{"orient":"bottom","tickBand":"extent","tickSize":40,"tickColor":"#d9d9d9","tickWidth":1,"domain":false,"labelPadding":-15,"labelAngle":0,"title":null}}}}
],
"resolve":{"scale":{"x":"independent"}}}
]}
]
}
